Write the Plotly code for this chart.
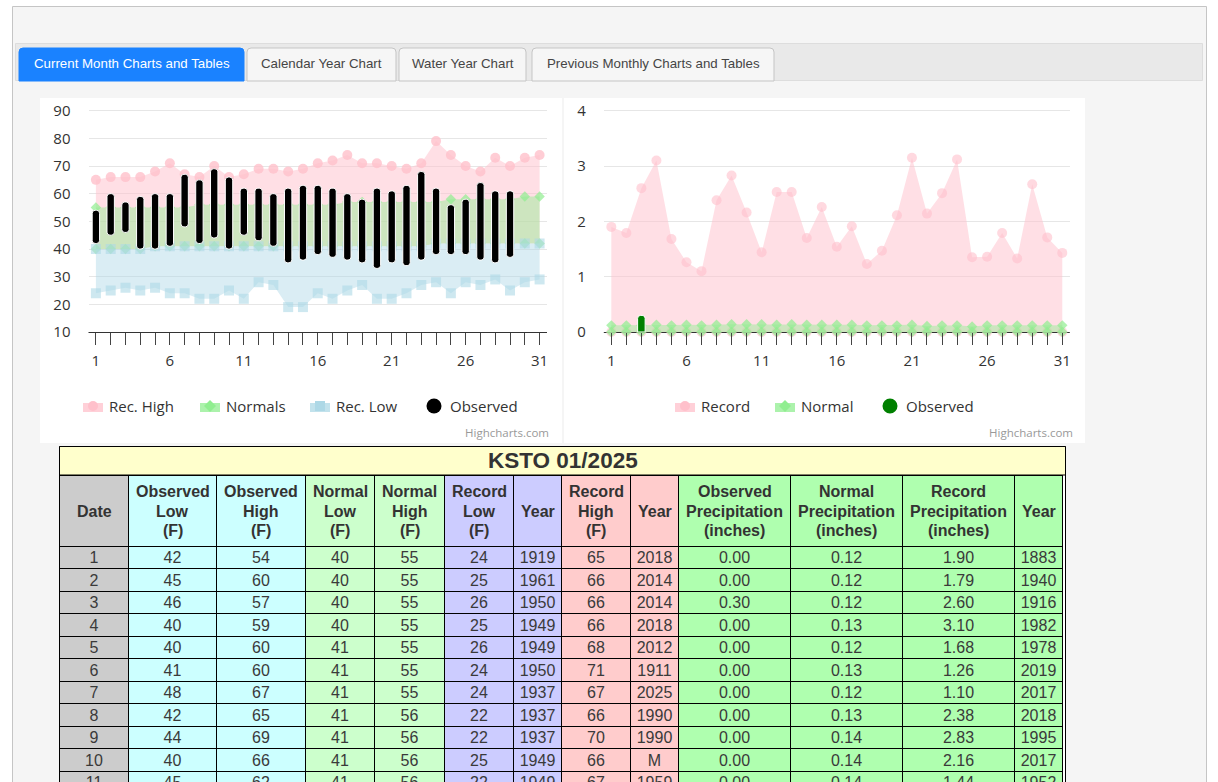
import plotly.graph_objects as go

W, H = 1218, 782

# temperature chart
days = list(range(1, 32))
day_labels = [str(d) if (d - 1) % 5 == 0 else '' for d in days]
rec_high = [65, 66, 66, 66, 68, 71, 67, 66, 70, 66, 67, 69, 69, 68, 69, 71, 72, 74, 71, 71, 70, 69, 71, 79, 74, 70, 68, 73, 70, 73, 74]
normal_high = [55, 55, 55, 55, 55, 55, 55, 56, 56, 56, 56, 56, 56, 56, 56, 56, 56, 57, 57, 57, 57, 57, 57, 57, 58, 58, 58, 58, 58, 59, 59]
normal_low = [40, 40, 40, 40, 41, 41, 41, 41, 41, 41, 41, 41, 41, 41, 41, 41, 41, 41, 41, 41, 41, 41, 41, 42, 42, 42, 42, 42, 42, 42, 42]
rec_low = [24, 25, 26, 25, 26, 24, 24, 22, 22, 25, 22, 28, 27, 19, 19, 24, 22, 25, 27, 22, 22, 24, 27, 28, 24, 28, 27, 29, 25, 28, 29]
obs_days = list(range(1, 30))
obs_low = [42, 45, 46, 40, 40, 41, 48, 42, 44, 40, 45, 43, 41, 35, 36, 38, 37, 36, 35, 33, 35, 34, 36, 38, 38, 38, 36, 35, 37]
obs_high = [54, 60, 57, 59, 60, 60, 67, 65, 69, 66, 62, 62, 60, 62, 63, 63, 62, 60, 58, 62, 61, 63, 68, 62, 56, 58, 64, 61, 61]

# precipitation chart
rec_precip = [1.90, 1.79, 2.60, 3.10, 1.68, 1.26, 1.10, 2.38, 2.83, 2.16, 1.44, 2.53, 2.53, 1.70, 2.26, 1.54, 1.91, 1.23, 1.47, 2.11, 3.15, 2.14, 2.51, 3.12, 1.35, 1.36, 1.79, 1.33, 2.67, 1.71, 1.43]
norm_precip = [0.12, 0.12, 0.12, 0.13, 0.12, 0.13, 0.12, 0.13, 0.14, 0.14, 0.14, 0.13, 0.14, 0.13, 0.13, 0.13, 0.13, 0.12, 0.12, 0.12, 0.13, 0.11, 0.12, 0.12, 0.10, 0.12, 0.12, 0.12, 0.12, 0.12, 0.12]
obs_precip_days = [3]
obs_precip = [0.30]
zeros = [0] * 31

# table
tbl_title = 'KSTO 01/2025'
tbl_headers = [['Date'], ['Observed', 'Low', '(F)'], ['Observed', 'High', '(F)'], ['Normal', 'Low', '(F)'], ['Normal', 'High', '(F)'],
               ['Record', 'Low', '(F)'], ['Year'], ['Record', 'High', '(F)'], ['Year'], ['Observed', 'Precipitation', '(inches)'],
               ['Normal', 'Precipitation', '(inches)'], ['Record', 'Precipitation', '(inches)'], ['Year']]
tbl_date = ['1', '2', '3', '4', '5', '6', '7', '8', '9', '10', '11']
tbl_obs_low = ['42', '45', '46', '40', '40', '41', '48', '42', '44', '40', '45']
tbl_obs_high = ['54', '60', '57', '59', '60', '60', '67', '65', '69', '66', '62']
tbl_norm_low = ['40', '40', '40', '40', '41', '41', '41', '41', '41', '41', '41']
tbl_norm_high = ['55', '55', '55', '55', '55', '55', '55', '56', '56', '56', '56']
tbl_rec_low = ['24', '25', '26', '25', '26', '24', '24', '22', '22', '25', '22']
tbl_rec_low_yr = ['1919', '1961', '1950', '1949', '1949', '1950', '1937', '1937', '1937', '1949', '1949']
tbl_rec_high = ['65', '66', '66', '66', '68', '71', '67', '66', '70', '66', '67']
tbl_rec_high_yr = ['2018', '2014', '2014', '2018', '2012', '1911', '2025', '1990', '1990', 'M', '1959']
tbl_obs_pcp = ['0.00', '0.00', '0.30', '0.00', '0.00', '0.00', '0.00', '0.00', '0.00', '0.00', '0.00']
tbl_norm_pcp = ['0.12', '0.12', '0.12', '0.13', '0.12', '0.13', '0.12', '0.13', '0.14', '0.14', '0.14']
tbl_rec_pcp = ['1.90', '1.79', '2.60', '3.10', '1.68', '1.26', '1.10', '2.38', '2.83', '2.16', '1.44']
tbl_rec_pcp_yr = ['1883', '1940', '1916', '1982', '1978', '2019', '2017', '2018', '1995', '2017', '1952']
tabs = ['Current Month Charts and Tables', 'Calendar Year Chart', 'Water Year Chart', 'Previous Monthly Charts and Tables']

PINK, GREEN, BLUE = 'rgb(255,192,203)', 'rgb(144,238,144)', 'rgb(173,216,230)'
PINK_FILL = 'rgba(255,192,203,0.5)'
GREEN_FILL = 'rgba(144,238,144,0.45)'
BLUE_FILL = 'rgba(173,216,230,0.45)'
HC_FONT = 'Open Sans'
TBL_FONT = 'Liberation Sans'
TXT = '#333333'


def fx(px):
    return px / W


def fy(py):
    return 1 - py / H


def rect(x0, y0, x1, y1, fill, line=None, width=1):
    return dict(type='rect', xref='paper', yref='paper', x0=fx(x0), x1=fx(x1), y0=fy(y0), y1=fy(y1),
                fillcolor=fill, line=dict(color=line or fill, width=width if line else 0), layer='below')


def label(x, y, text, size=15, color=TXT, anchor='left', family=HC_FONT):
    return dict(xref='paper', yref='paper', x=fx(x), y=fy(y), text=text, showarrow=False, xanchor=anchor,
                yanchor='middle', font=dict(size=size, color=color, family=family), borderpad=0, borderwidth=0)


def tab_path(x0, x1, y0, y1, r=4):
    return (f'M {fx(x0)} {fy(y1)} L {fx(x0)} {fy(y0 + r)} Q {fx(x0)} {fy(y0)} {fx(x0 + r)} {fy(y0)} '
            f'L {fx(x1 - r)} {fy(y0)} Q {fx(x1)} {fy(y0)} {fx(x1)} {fy(y0 + r)} L {fx(x1)} {fy(y1)} Z')


def band(x, low, high, fill, color, symbol, size, xa, ya, low_markers=True, opacity=0.8):
    marker = dict(color=color, symbol=symbol, size=size, opacity=opacity, line=dict(width=0))
    low_tr = go.Scatter(x=x, y=low, mode='lines+markers' if low_markers else 'lines', line=dict(width=0),
                        xaxis=xa, yaxis=ya, hoverinfo='skip', marker=marker, cliponaxis=False)
    high_tr = go.Scatter(x=x, y=high, mode='lines+markers', line=dict(width=0), fill='tonexty', fillcolor=fill,
                         xaxis=xa, yaxis=ya, marker=marker, cliponaxis=False)
    return [low_tr, high_tr]


fig = go.Figure()

fig.add_traces(band(days, normal_low, rec_high, PINK_FILL, PINK, 'circle', 10, 'x', 'y', low_markers=False))
fig.add_traces(band(days, normal_low, normal_high, GREEN_FILL, GREEN, 'diamond', 8, 'x', 'y', opacity=0.7))
fig.add_traces(band(days, rec_low, normal_low, BLUE_FILL, BLUE, 'square', 10, 'x', 'y', opacity=0.6))
fig.add_trace(go.Bar(x=obs_days, base=obs_low, y=[h - l for h, l in zip(obs_high, obs_low)], width=0.5, zorder=2,
                     marker=dict(color='black', cornerradius=3, line=dict(color='white', width=1)), xaxis='x', yaxis='y'))

fig.add_traces(band(days, zeros, rec_precip, PINK_FILL, PINK, 'circle', 10, 'x2', 'y2', opacity=0.6))
fig.add_traces(band(days, zeros, norm_precip, GREEN_FILL, GREEN, 'diamond', 8, 'x2', 'y2', opacity=0.7))
fig.add_trace(go.Bar(x=obs_precip_days, y=obs_precip, width=0.5, zorder=2,
                     marker=dict(color='green', cornerradius=3, line=dict(color='white', width=1)), xaxis='x2', yaxis='y2'))

tbl_cols = [tbl_date, tbl_obs_low, tbl_obs_high, tbl_norm_low, tbl_norm_high, tbl_rec_low, tbl_rec_low_yr,
            tbl_rec_high, tbl_rec_high_yr, tbl_obs_pcp, tbl_norm_pcp, tbl_rec_pcp, tbl_rec_pcp_yr]
col_widths = [69, 88, 89, 69, 70, 69, 48, 69, 48, 112, 112, 112, 48]
col_fills = ['#cccccc', '#ccffff', '#ccffff', '#ccffcc', '#ccffcc', '#ccccff', '#ccccff',
             '#ffcccc', '#ffcccc', '#afffaf', '#afffaf', '#afffaf', '#afffaf']
TBL_LEFT = 59.5
fig.add_trace(go.Table(
    domain=dict(x=[fx(TBL_LEFT), fx(TBL_LEFT + sum(col_widths))], y=[0, fy(475)]),
    columnwidth=col_widths,
    header=dict(values=[''] * 13, fill_color=col_fills, height=71, line=dict(color='black', width=1)),
    cells=dict(values=tbl_cols, fill_color=col_fills, height=22.5, align='center',
               line=dict(color='black', width=1), font=dict(size=16, color='#3a3a3a', family=TBL_FONT)),
))

shapes = [
    rect(12.5, 6.5, 1206.5, 800, '#f5f5f5', '#c5c5c5'),
    rect(15.5, 43.5, 1202.5, 80.5, '#e9e9e9', '#dddddd'),
    rect(40, 98, 562, 443, 'white'),
    rect(564, 98, 1085, 443, 'white'),
    rect(59.5, 446.5, 1065.5, 800, '#ffffff', 'black'),
    rect(59.5, 446.5, 1065.5, 475, '#ffffcc', 'black'),
]
# base line of both charts: the axis line does not come through with the bars on a zorder
for x0, x1 in [(88.5, 547), (603.8, 1069.8)]:
    shapes.append(dict(type='line', xref='paper', yref='paper', x0=fx(x0), x1=fx(x1), y0=fy(332.5), y1=fy(332.5),
                       line=dict(color='#333333', width=1), layer='below'))

annotations = [
    label(563, 460, f'<b>{tbl_title}</b>', size=22.5, anchor='center', family=TBL_FONT),
    label(549, 432.5, 'Highcharts.com', size=11.5, color='#999999', anchor='right'),
    label(1073, 432.5, 'Highcharts.com', size=11.5, color='#999999', anchor='right'),
]

# header text of the table, one annotation per line so the leading stays at 19px
col_left = TBL_LEFT
for width, lines in zip(col_widths, tbl_headers):
    for j, line in enumerate(lines):
        annotations.append(label(col_left + width / 2, 511 + (j - (len(lines) - 1) / 2) * 19, f'<b>{line}</b>',
                                 size=16, anchor='center', family=TBL_FONT))
    col_left += width

tab_x = [(19, 244), (247, 396), (399, 526), (532, 774)]
for i, ((x0, x1), name) in enumerate(zip(tab_x, tabs)):
    shapes.append(dict(type='path', xref='paper', yref='paper', path=tab_path(x0, x1, 48, 81), layer='below',
                       fillcolor='#1a82ff' if i == 0 else '#f6f6f6',
                       line=dict(color='#1a82ff' if i == 0 else '#c5c5c5', width=1)))
    annotations.append(label((x0 + x1) / 2, 63, name, size=13.3, color='white' if i == 0 else '#454545',
                             anchor='center', family=TBL_FONT))


def legend_key(x, y, color, symbol):
    # swatch + marker, the way the legend of an area series looks
    out = [rect(x, y - 3, x + 20, y + 6, color.replace('rgb', 'rgba').replace(')', ',0.75)'))]
    cx = x + 10
    if symbol == 'circle':
        out.append(dict(type='circle', xref='paper', yref='paper', x0=fx(cx - 5), x1=fx(cx + 5), y0=fy(y - 5), y1=fy(y + 5),
                        fillcolor=color, line=dict(width=0), layer='above'))
    elif symbol == 'square':
        out.append(rect(cx - 5, y - 5, cx + 5, y + 5, color))
    else:
        out.append(dict(type='path', xref='paper', yref='paper', layer='above', fillcolor=color, line=dict(width=0),
                        path=f'M {fx(cx)} {fy(y - 6)} L {fx(cx + 6)} {fy(y)} L {fx(cx)} {fy(y + 6)} L {fx(cx - 6)} {fy(y)} Z'))
    return out


for x, txt, color, symbol in [(83, 'Rec. High', PINK, 'circle'), (200, 'Normals', GREEN, 'diamond'),
                              (310, 'Rec. Low', BLUE, 'square'), (675, 'Record', PINK, 'circle'),
                              (775, 'Normal', GREEN, 'diamond')]:
    shapes += legend_key(x, 406, color, symbol)
    annotations.append(label(x + 26, 406, txt))

for cx, tx, color in [(434, 450, 'black'), (890, 906, 'green')]:
    shapes.append(dict(type='circle', xref='paper', yref='paper', x0=fx(cx - 7.5), x1=fx(cx + 7.5), y0=fy(398.5), y1=fy(413.5),
                       fillcolor=color, line=dict(width=0), layer='above'))
    annotations.append(label(tx, 406, 'Observed'))

x_common = dict(range=[0.5, 31.5], tickvals=days, ticktext=day_labels, ticks='outside', ticklen=12, tickwidth=1,
                tickcolor='#444444', showline=False, showgrid=False, zeroline=False,
                automargin=False, ticklabelstandoff=3, tickfont=dict(size=15, color=TXT, family=HC_FONT), tickangle=0)
y_common = dict(showgrid=True, gridcolor='#e6e6e6', gridwidth=1, zeroline=False, showline=False, automargin=False,
                ticks='outside', ticklen=14, tickcolor='rgba(0,0,0,0)', tickfont=dict(size=15, color=TXT, family=HC_FONT))

# the plot area runs 1.5px above the top tick, plotly drops a grid line that sits on the very edge
fig.update_layout(
    template='none', width=W, height=H, margin=dict(l=0, r=0, t=0, b=0, pad=0), autosize=False,
    paper_bgcolor='white', plot_bgcolor='rgba(0,0,0,0)', showlegend=False, barmode='overlay',
    xaxis=dict(domain=[fx(88.5), fx(547)], anchor='y', **x_common),
    yaxis=dict(domain=[fy(332), fy(109.2)], range=[10, 90.54], tickvals=[10, 20, 30, 40, 50, 60, 70, 80, 90], anchor='x', **y_common),
    xaxis2=dict(domain=[fx(603.8), fx(1069.8)], anchor='y2', **x_common),
    yaxis2=dict(domain=[fy(332), fy(109.2)], range=[0, 4.027], tickvals=[0, 1, 2, 3, 4], anchor='x2', **y_common),
    shapes=shapes, annotations=annotations,
)

fig.write_html("out.html", config={'displayModeBar': False},
               post_script="document.body.style.margin='0';document.documentElement.style.overflow='hidden';"
               "var st=document.createElement('style');st.textContent='.scrollbar-kit{display:none}.cell-text{transform:translateY(-3px)}';"
               "document.head.appendChild(st);")
